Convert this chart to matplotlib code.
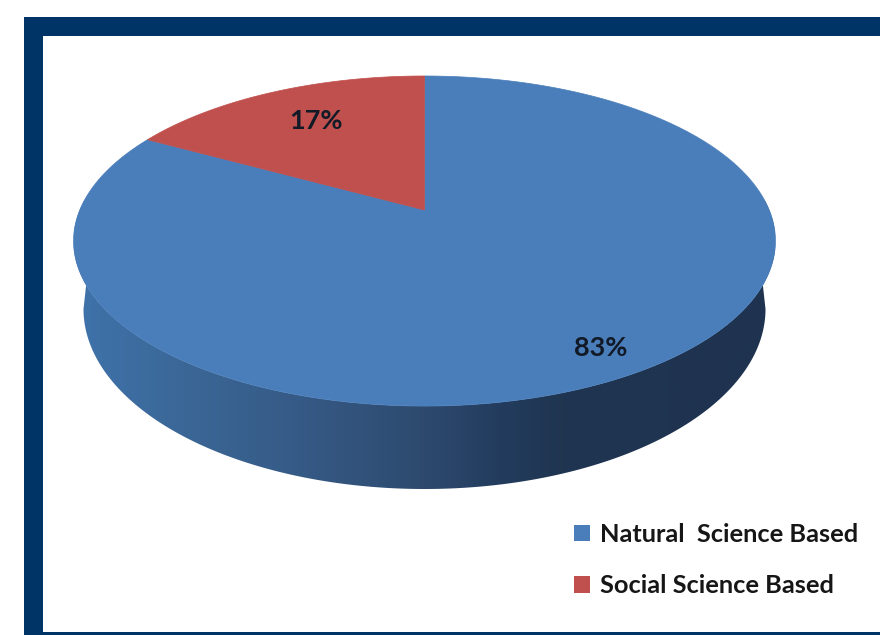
import numpy as np
import matplotlib
matplotlib.use("Agg")
import matplotlib.pyplot as plt
from matplotlib.colors import LinearSegmentedColormap
from matplotlib.patches import Patch, Polygon, Rectangle

labels = ["Natural  Science Based", "Social Science Based"]
shares = [83, 17]
pct_labels = ["83%", "17%"]
colors = ["#4a7ebb", "#c0504d"]
navy = "#003366"

# tilted disc: unit circle through a perspective divide, in pixel coords
cx, cy = 424.5, 210
a, b, k = 344.7, 159.2, 0.188


def project(t, r=1.0):
    x = r * np.cos(t)
    y = r * np.sin(t)
    w = 1 + k * y
    return cx + a * x / w, cy - b * y / w


fig = plt.figure(figsize=(8.8, 6.35), dpi=100)
ax = fig.add_axes([0, 0, 1, 1])
ax.set_xlim(0, 880)
ax.set_ylim(635, 0)
ax.axis("off")

# border
ax.add_patch(Rectangle((24, 17), 856, 618, fc=navy, ec="none"))
ax.add_patch(Rectangle((43, 36), 837, 596, fc="white", ec="none"))

# side wall: front of the top rim, then the lower edge of the disc
rim_t = np.linspace(np.pi - 0.19, 2 * np.pi + 0.19, 360)
low_t = np.linspace(0, np.pi, 360)
rim_x, rim_y = project(rim_t)
low_x = cx + 341 * np.cos(low_t)
low_y = 309 + 180 * np.sin(low_t)
wall = np.column_stack([np.r_[rim_x, low_x], np.r_[rim_y, low_y]])

shade = LinearSegmentedColormap.from_list("wall", [
    (0.0, "#3f73ab"), (0.18, "#3a6594"), (0.32, "#365a86"), (0.50, "#2d4a6e"),
    (0.61, "#233c5e"), (0.70, "#1f3550"), (1.0, "#1f3350"),
])
grad = ax.imshow(np.linspace(0, 1, 512).reshape(1, -1), cmap=shade, aspect="auto",
                 extent=(74, 775, 500, 200), zorder=2)
clip = Polygon(wall, closed=True, transform=ax.transData, fc="none", ec="none")
ax.add_patch(clip)
grad.set_clip_path(clip)
ax.set_xlim(0, 880)
ax.set_ylim(635, 0)

# top face, clockwise from 12 o'clock
start = np.pi / 2
label_r = [0.865, 0.73]
label_shift = [0, 6]
for share, col, txt, lr, dx in zip(shares, colors, pct_labels, label_r, label_shift):
    sweep = share / sum(shares) * 2 * np.pi
    ang = np.linspace(start, start - sweep, 300)
    xs, ys = project(ang)
    ax.fill(np.r_[cx, xs], np.r_[cy, ys], fc=col, ec=col, lw=0.5, zorder=3)
    lx, ly = project(start - sweep / 2, r=lr)
    ax.text(lx + dx, ly, txt, ha="center", va="center", fontsize=19.5, family="Lato",
            weight="bold", color="#111a26", zorder=4)
    start -= sweep

handles = [Patch(fc=c, ec="none") for c in colors]
ax.legend(handles, labels, loc="upper left", bbox_to_anchor=(574 / 880, 1 - 523 / 635),
          frameon=False, prop={"family": "Lato", "size": 18.3, "weight": "bold"},
          labelspacing=1.12, borderpad=0, borderaxespad=0,
          handlelength=0.635, handleheight=0.635, handletextpad=0.4, labelcolor="#161616")

fig.savefig("out.png", dpi=100)
